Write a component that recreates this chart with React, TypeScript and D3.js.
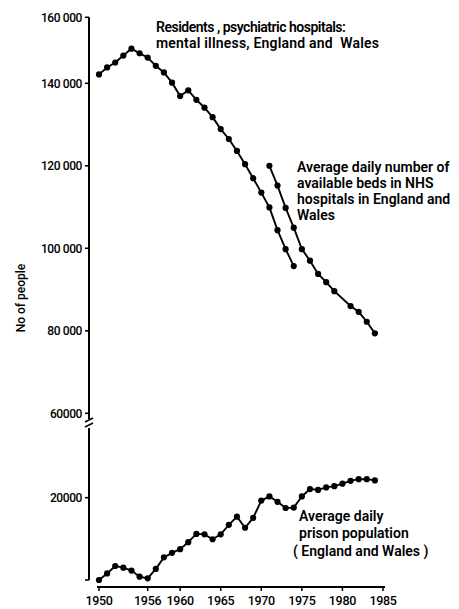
import React from "react";
import * as d3 from "d3";

// ---- data ----
const residentsYears = [1950,1951,1952,1953,1954,1955,1956,1957,1958,1959,1960,1961,1962,1963,1964,1965,1966,1967,1968,1969,1970,1971,1972,1973,1974];
const residentsValues = [142700,144800,146300,148400,150500,149100,147800,145300,143300,140200,136900,138300,136000,134100,131800,128900,126500,123600,120400,117000,113500,109900,104400,99800,95700];

const bedsYears = [1971,1972,1973,1974,1975,1976,1977,1978,1979,1981,1982,1983,1984];
const bedsValues = [120000,115200,109800,105000,99800,97000,93800,91800,89600,86000,84600,82200,79400];

const prisonYears = [1950,1951,1952,1953,1954,1955,1956,1957,1958,1959,1960,1961,1962,1963,1964,1965,1966,1967,1968,1969,1970,1971,1972,1973,1974,1975,1976,1977,1978,1979,1980,1981,1982,1983,1984];
const prisonValues = [0,1600,3400,3000,2300,800,400,2700,5500,6600,7500,9200,11200,11100,9900,11100,13400,15400,12700,15100,19300,20300,19000,17500,17600,20300,22100,21900,22500,22800,23400,24100,24500,24500,24200];

const topTickValues = [60000, 80000, 100000, 120000, 140000, 160000];
const topTickLabels = ["60000", "80 000", "100 000", "120 000", "140 000", "160 000"];
const bottomTickValues = [0, 20000];
const bottomTickLabels = ["", "20000"];
const xTickValues = [1950, 1956, 1960, 1965, 1970, 1975, 1980, 1985];

const residentsLabel = ["Residents , psychiatric hospitals:", "mental illness, England and  Wales"];
const bedsLabel = ["Average daily number of", "available beds in NHS", "hospitals in England and", "Wales"];
const prisonLabel = ["Average daily", "prison population", "( England and Wales )"];
const yTitle = "No of people";

// ---- layout ----
const W = 459;
const H = 609;
const axisX = 89;
const font = "Roboto, 'Liberation Sans', Arial, sans-serif";

const x = d3.scaleLinear().domain([1950, 1985]).range([99, 383]);
const yTop = d3.scaleLinear().domain([60000, 140000, 160000]).range([413.3, 83.3, 17.3]);
const yBot = d3.scaleLinear().domain([0, 20000]).range([580, 497.7]);

function Series({ years, values, y }: { years: number[]; values: number[]; y: any }) {
  const pts = years.map((yr, i) => [x(yr), y(values[i])] as [number, number]);
  const line = d3.line();
  return (
    <g>
      <path d={line(pts) || ""} fill="none" stroke="#000" strokeWidth={1.9} />
      {pts.map((p, i) => (
        <circle key={i} cx={p[0]} cy={p[1]} r={3.1} fill="#000" />
      ))}
    </g>
  );
}

export default function App() {
  const topAxisEnd = yTop(160000);
  const breakY = 423;
  const annW = 600;
  return (
    <svg
      width={W}
      height={H}
      viewBox={`0 0 ${W} ${H}`}
      style={{ position: "absolute", left: 0, top: 0, background: "#fff" }}
      fontFamily={font}
    >
      <rect x={0} y={0} width={W} height={H} fill="#fff" />
      {/* y axis, top segment */}
      <line x1={axisX} x2={axisX} y1={topAxisEnd} y2={breakY - 4} stroke="#000" strokeWidth={2} />
      {/* y axis, bottom segment */}
      <line x1={axisX} x2={axisX} y1={breakY + 5} y2={yBot(0)} stroke="#000" strokeWidth={2} />
      {/* break marks */}
      <line x1={axisX - 4} x2={axisX + 4} y1={breakY - 1} y2={breakY - 5} stroke="#000" strokeWidth={1.4} />
      <line x1={axisX - 4} x2={axisX + 4} y1={breakY + 4} y2={breakY} stroke="#000" strokeWidth={1.4} />
      {topTickValues.map((v, i) => (
        <g key={"t" + v}>
          <line x1={axisX - 4} x2={axisX} y1={yTop(v)} y2={yTop(v)} stroke="#000" strokeWidth={1.6} />
          <text x={82} y={yTop(v)} dy="0.35em" textAnchor="end" fontSize={12} fontWeight={500} letterSpacing={-0.4}>
            {topTickLabels[i]}
          </text>
        </g>
      ))}
      {bottomTickValues.map((v, i) => (
        <g key={"b" + v}>
          <line x1={axisX - 4} x2={axisX} y1={yBot(v)} y2={yBot(v)} stroke="#000" strokeWidth={1.6} />
          <text x={82} y={yBot(v)} dy="0.35em" textAnchor="end" fontSize={12} fontWeight={500} letterSpacing={-0.4}>
            {bottomTickLabels[i]}
          </text>
        </g>
      ))}
      <text
        transform={`translate(21,298) rotate(-90)`}
        textAnchor="middle"
        dy="0.35em"
        fontSize={12}
        fontWeight={500}
      >
        {yTitle}
      </text>
      {/* x axis */}
      <line x1={97} x2={385} y1={587} y2={587} stroke="#000" strokeWidth={1.8} />
      {xTickValues.map((v) => (
        <g key={"x" + v}>
          <line x1={x(v)} x2={x(v)} y1={587} y2={591} stroke="#000" strokeWidth={1.5} />
          <text x={x(v)} y={601} dy="0.35em" textAnchor="middle" fontSize={12.5} fontWeight={500} letterSpacing={-0.3}>
            {v}
          </text>
        </g>
      ))}
      <Series years={residentsYears} values={residentsValues} y={yTop} />
      <Series years={bedsYears} values={bedsValues} y={yTop} />
      <Series years={prisonYears} values={prisonValues} y={yBot} />
      {/* annotations */}
      {residentsLabel.map((s, i) => (
        <text key={"r" + i} x={156} y={27 + i * 16.5} dy="0.35em" fontSize={14} fontWeight={annW}
          letterSpacing={i === 0 ? -0.5 : 0.2} style={{ whiteSpace: "pre" }}>
          {s}
        </text>
      ))}
      {bedsLabel.map((s, i) => (
        <text key={"n" + i} x={297} y={167 + i * 16} dy="0.35em" fontSize={14} fontWeight={annW}>
          {s}
        </text>
      ))}
      {prisonLabel.map((s, i) => (
        <text key={"p" + i} x={i === 2 ? 293 : 299} y={516 + i * 17.5} dy="0.35em" fontSize={14} fontWeight={annW}>
          {s}
        </text>
      ))}
    </svg>
  );
}
